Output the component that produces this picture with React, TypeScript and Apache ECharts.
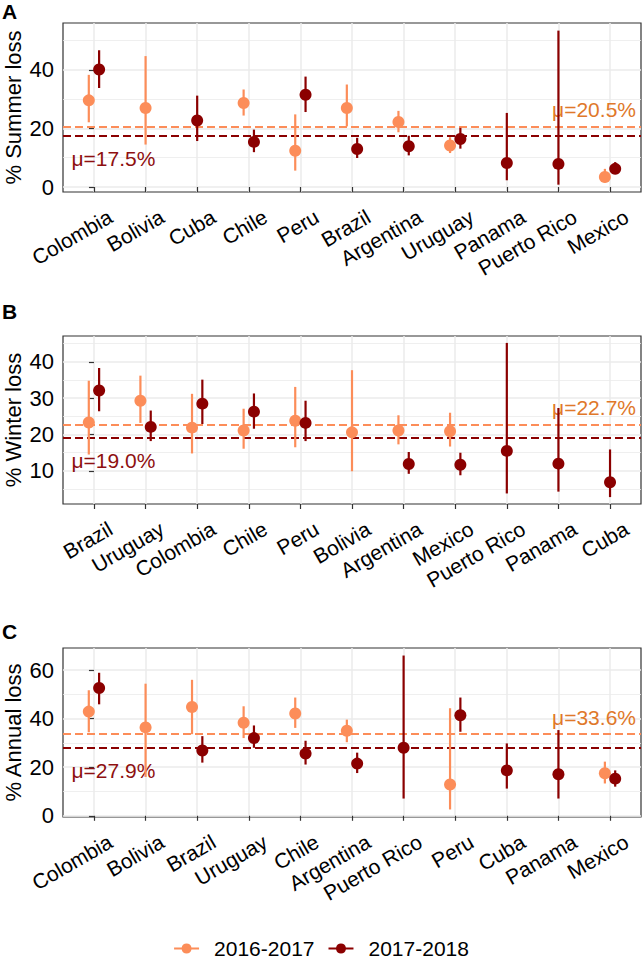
import React, { useEffect, useRef } from "react";
import * as echarts from "echarts";

// ---------- DATA ----------
const summerCountries = ["Colombia", "Bolivia", "Cuba", "Chile", "Peru", "Brazil", "Argentina", "Uruguay", "Panama", "Puerto Rico", "Mexico"];
const summer1617 = [29.6, 27.0, null, 28.7, 12.4, 27.0, 22.2, 14.2, null, null, 3.4];
const summer1617Lo = [22.1, 14.5, null, 24.4, 5.6, 20.7, 18.7, 11.6, null, null, 1.6];
const summer1617Hi = [38.3, 44.7, null, 33.3, 24.8, 35.0, 26.0, 17.0, null, null, 6.2];
const summer1718 = [40.1, null, 22.7, 15.4, 31.5, 13.0, 13.9, 16.4, 8.2, 7.9, 6.2];
const summer1718Lo = [33.8, null, 15.7, 11.9, 25.6, 9.9, 10.8, 13.1, 2.3, 0.8, 4.6];
const summer1718Hi = [46.7, null, 31.2, 19.6, 37.7, 16.8, 17.5, 20.2, 25.3, 53.4, 8.5];
const summerMean1617 = 20.5;
const summerMean1718 = 17.5;

const winterCountries = ["Brazil", "Uruguay", "Colombia", "Chile", "Peru", "Bolivia", "Argentina", "Mexico", "Puerto Rico", "Panama", "Cuba"];
const winter1617 = [23.3, 29.3, 21.9, 21.1, 23.8, 20.6, 21.1, 20.9, null, null, null];
const winter1617Lo = [14.5, 23.2, 14.8, 16.1, 16.5, 9.9, 17.3, 16.7, null, null, null];
const winter1617Hi = [34.8, 36.2, 31.2, 27.1, 33.1, 37.7, 25.3, 26.0, null, null, null];
const winter1718 = [32.1, 22.1, 28.5, 26.3, 23.2, null, 11.9, 11.7, 15.5, 12.0, 6.9];
const winter1718Lo = [26.4, 18.2, 22.9, 21.6, 18.2, null, 9.2, 8.8, 3.8, 4.3, 2.8];
const winter1718Hi = [38.3, 26.6, 35.1, 31.3, 29.3, null, 15.2, 15.0, 45.2, 27.3, 15.9];
const winterMean1617 = 22.7;
const winterMean1718 = 19.0;

const annualCountries = ["Colombia", "Bolivia", "Brazil", "Uruguay", "Chile", "Argentina", "Puerto Rico", "Peru", "Cuba", "Panama", "Mexico"];
const annual1617 = [42.9, 36.4, 44.8, 38.3, 42.1, 35.0, null, 12.9, null, null, 17.5];
const annual1617Lo = [34.4, 16.0, 33.6, 32.0, 36.2, 30.3, null, 2.6, null, null, 13.3];
const annual1617Hi = [51.7, 54.4, 56.0, 45.1, 48.7, 39.6, null, 44.3, null, null, 22.3];
const annual1718 = [52.6, null, 26.9, 32.0, 25.6, 21.5, 28.0, 41.4, 18.7, 17.1, 15.3];
const annual1718Lo = [45.9, null, 21.9, 28.0, 21.1, 17.6, 7.1, 34.6, 11.2, 7.1, 12.0];
const annual1718Hi = [58.9, null, 32.8, 37.2, 30.9, 26.0, 66.0, 48.7, 29.8, 35.3, 18.7];
const annualMean1617 = 33.6;
const annualMean1718 = 27.9;

const seasonNames = ["2016-2017", "2017-2018"];
const summerTicks = [0, 20, 40];
const summerMinor = [10, 30, 50];
const winterTicks = [10, 20, 30, 40];
const winterMinor = [5, 15, 25, 35, 45];
const annualTicks = [0, 20, 40, 60];
const annualMinor = [10, 30, 50];

// ---------- STYLE / LAYOUT ----------
const FONT = "Liberation Sans";
const C1 = "#FC8D59";
const C2 = "#8B0000";
const C1_TEXT = "#E0782A";
const C2_TEXT = "#8E1010";
const GRID_COL = "#EBEBEB";
const LABEL_SHIFT = 0.32; // category-label anchor shift (in category units), mimics ggplot hjust

const panels = [
  {
    letter: "A", yName: "% Summer loss", countries: summerCountries,
    a: [summer1617, summer1617Lo, summer1617Hi], b: [summer1718, summer1718Lo, summer1718Hi],
    meanA: summerMean1617, meanB: summerMean1718, ticks: summerTicks, minor: summerMinor,
    yMin: -1.7, yMax: 56.0, top: 23, height: 169, letterTop: 1,
  },
  {
    letter: "B", yName: "% Winter loss", countries: winterCountries,
    a: [winter1617, winter1617Lo, winter1617Hi], b: [winter1718, winter1718Lo, winter1718Hi],
    meanA: winterMean1617, meanB: winterMean1718, ticks: winterTicks, minor: winterMinor,
    yMin: 0.9, yMax: 47.1, top: 336, height: 168, letterTop: 301,
  },
  {
    letter: "C", yName: "% Annual loss", countries: annualCountries,
    a: [annual1617, annual1617Lo, annual1617Hi], b: [annual1718, annual1718Lo, annual1718Hi],
    meanA: annualMean1617, meanB: annualMean1718, ticks: annualTicks, minor: annualMinor,
    yMin: -0.5, yMax: 69.1, top: 648, height: 169, letterTop: 621,
  },
];

const LEGEND_ICON = "path://M0 4 H7.6 A5 5 0 0 1 17.4 4 H25 V6 H17.4 A5 5 0 0 1 7.6 6 H0 Z";

function buildOption() {
  const idx = summerCountries.map((_, i) => i);
  const labelPos = idx.map((i) => i + LABEL_SHIFT);
  const grid: any[] = [];
  const xAxis: any[] = [];
  const yAxis: any[] = [];
  const series: any[] = [];
  const graphic: any[] = [];

  panels.forEach((p, gi) => {
    grid.push({
      left: 63, width: 578, top: p.top, height: p.height,
      show: true, borderColor: "#333333", borderWidth: 1.2, backgroundColor: "#fff",
      containLabel: false, outerBoundsMode: "none",
    });
    xAxis.push({
      type: "value", gridIndex: gi, min: -0.6, max: 10.6,
      axisLine: { show: false },
      axisTick: { show: true, customValues: idx, length: 5, lineStyle: { color: "#333", width: 1.2 } },
      axisLabel: {
        customValues: labelPos,
        showMinLabel: true, showMaxLabel: true, hideOverlap: false,
        formatter: (v: number) => p.countries[Math.round(v - LABEL_SHIFT)],
        rotate: 30, margin: 23, align: "right", verticalAlign: "middle", lineHeight: 21,
        fontSize: 21, color: "#000", fontFamily: FONT,
      },
      splitLine: { show: true, lineStyle: { color: GRID_COL, width: 1.5 } },
    });
    yAxis.push({
      type: "value", gridIndex: gi, min: p.yMin, max: p.yMax,
      name: p.yName, nameLocation: "middle", nameGap: 38, nameRotate: 90, nameMoveOverlap: false,
      nameTextStyle: { fontSize: 22, lineHeight: 23, color: "#000", fontFamily: FONT },
      axisLine: { show: false },
      axisTick: { show: true, customValues: p.ticks, length: 5, lineStyle: { color: "#333", width: 1.2 } },
      axisLabel: { customValues: p.ticks, showMinLabel: true, showMaxLabel: true, margin: 9, fontSize: 22, color: "#000", fontFamily: FONT },
      splitLine: { show: true, lineStyle: { color: GRID_COL, width: 1.5 } },
    });

    // mean labels + dashed mean lines + minor grid (all beneath the point ranges)
    series.push({
      type: "scatter", name: "means" + p.letter, xAxisIndex: gi, yAxisIndex: gi, z: 2,
      symbolSize: 0, silent: true, clip: false, itemStyle: { opacity: 1 },
      data: [
        {
          value: [-0.6, p.meanB],
          label: { show: true, position: "right", distance: 0, offset: [8.5, 22.5], color: C2_TEXT, opacity: 1,
            formatter: `μ=${p.meanB.toFixed(1)}%`, fontSize: 21, fontFamily: FONT },
        },
        {
          value: [10.6, p.meanA],
          label: { show: true, position: "left", distance: 0, offset: [-5, -17], color: C1_TEXT, opacity: 1,
            formatter: `μ=${p.meanA.toFixed(1)}%`, fontSize: 21, fontFamily: FONT },
        },
      ],
      markLine: {
        z: 1, silent: true, symbol: ["none", "none"], label: { show: false },
        data: [
          ...p.minor.map((m) => ({ yAxis: m, lineStyle: { color: GRID_COL, width: 0.8, type: "solid" } })),
          { yAxis: p.meanA, lineStyle: { color: C1, width: 2, type: [8, 4] } },
          { yAxis: p.meanB, lineStyle: { color: C2, width: 2, type: [8, 4] } },
        ],
      },
    });

    const groups = [
      { arr: p.a, color: C1, name: seasonNames[0], shift: -0.1 },
      { arr: p.b, color: C2, name: seasonNames[1], shift: 0.1 },
    ];
    groups.forEach((g) => {
      const data: any[] = [];
      g.arr[0].forEach((v, i) => {
        if (v == null) return;
        const both = p.a[0][i] != null && p.b[0][i] != null;
        const x = i + (both ? g.shift : 0);
        data.push([x, v, g.arr[1][i], g.arr[2][i]]);
      });
      series.push({
        type: "custom", name: g.name, xAxisIndex: gi, yAxisIndex: gi, z: 3, silent: true,
        itemStyle: { color: g.color },
        encode: { x: 0, y: [1, 2, 3] },
        data,
        renderItem: (params: any, api: any) => {
          const x = api.value(0);
          const pm = api.coord([x, api.value(1)]);
          const p1 = api.coord([x, api.value(2)]);
          const p2 = api.coord([x, api.value(3)]);
          return {
            type: "group",
            children: [
              {
                type: "line",
                shape: { x1: p1[0], y1: p1[1], x2: p2[0], y2: p2[1] },
                style: { stroke: g.color, lineWidth: 2.2 },
              },
              {
                type: "circle",
                shape: { cx: pm[0], cy: pm[1], r: 6 },
                style: { fill: g.color },
              },
            ],
          };
        },
      });
    });

    graphic.push({
      type: "text", left: 2, top: p.letterTop,
      style: { text: p.letter, fontSize: 21, fontWeight: "bold", fill: "#000", fontFamily: FONT },
    });
  });

  return {
    animation: false,
    backgroundColor: "#fff",
    textStyle: { fontFamily: FONT },
    grid, xAxis, yAxis, series, graphic,
    legend: {
      show: true, top: 938, left: "center", padding: 0, itemWidth: 25, itemHeight: 10, itemGap: 14,
      selectedMode: false,
      formatter: (name: string) => `{g| }{t|${name}}`,
      textStyle: {
        fontSize: 21, lineHeight: 20, color: "#000", fontFamily: FONT,
        rich: {
          g: { width: 10, fontSize: 21, lineHeight: 20 },
          t: { fontSize: 21, lineHeight: 20, color: "#000", fontFamily: FONT },
        },
      },
      data: seasonNames.map((n) => ({ name: n, icon: LEGEND_ICON })),
    },
  };
}

export default function App() {
  const ref = useRef<HTMLDivElement>(null);
  useEffect(() => {
    if (!ref.current) return;
    const chart = echarts.init(ref.current, null, { renderer: "svg" });
    chart.setOption(buildOption() as any);
    return () => chart.dispose();
  }, []);
  return (
    <div
      ref={ref}
      style={{ position: "absolute", left: 0, top: 0, width: 643, height: 962, background: "#fff" }}
    />
  );
}
